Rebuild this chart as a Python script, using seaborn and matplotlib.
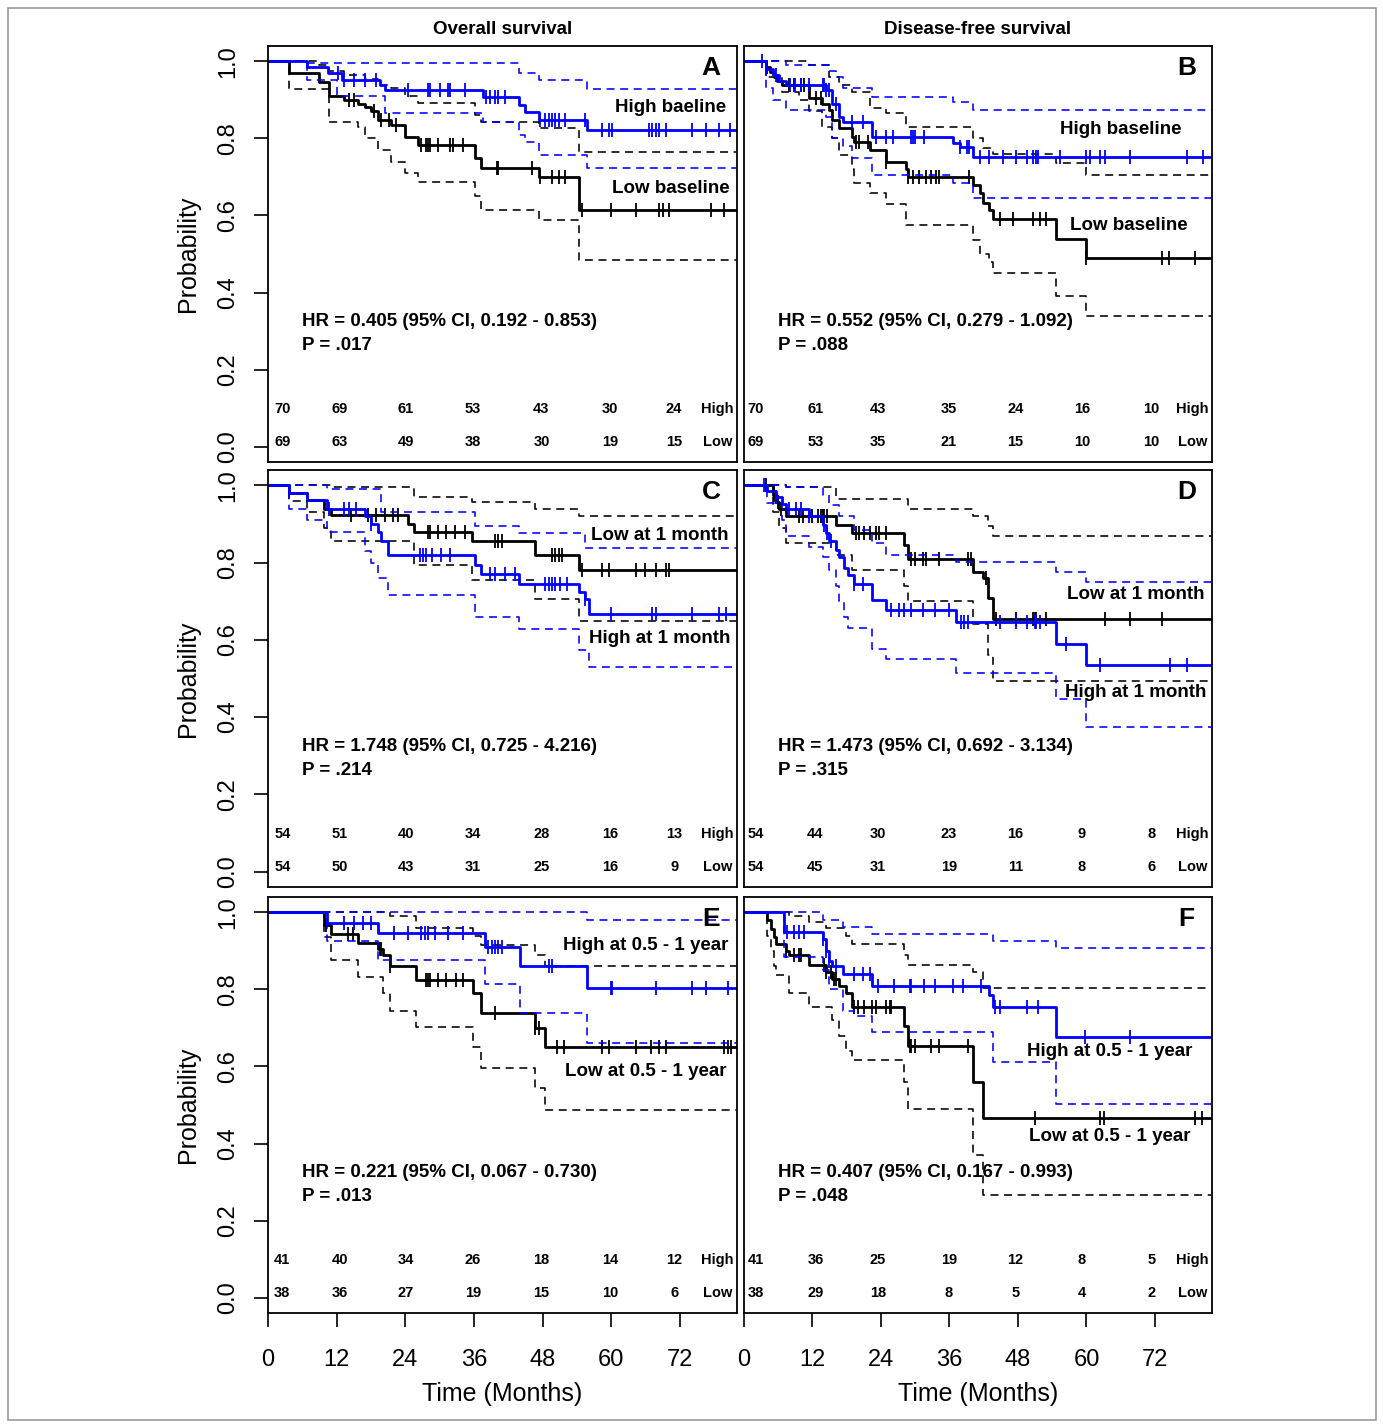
import numpy as np
import pandas as pd
import seaborn as sns
import matplotlib.pyplot as plt
from matplotlib.patches import Rectangle

# ---- A: overall survival, baseline ----
A_high_est = [(6.9, .985), (10.5, .97), (13.0, .953), (19.5, .94), (20.4, .926), (37.6, .908), (43.8, .888), (45.0, .869), (47.3, .848), (55.8, .822)]
A_high_up = [(6.9, .995), (43.8, .97), (47.3, .953), (55.8, .928)]
A_high_lo = [(6.9, .953), (12.0, .91), (20.4, .865), (37.6, .843), (43.8, .81), (45.0, .79), (47.3, .757), (55.8, .722)]
A_high_cens = [12.2, 13.3, 15.1, 16.9, 18.9, 24.5, 28.0, 28.3, 30.0, 31.5, 31.8, 34.4, 38.2, 38.8, 39.7, 40.3, 41.4,
               47.6, 48.5, 49.1, 49.6, 50.2, 50.8, 52.0, 55.5, 58.4, 59.6, 60.2, 66.6, 67.2, 67.8, 68.4, 69.5, 74.2, 76.6, 78.9, 80.7]
A_low_est = [(3.7, .969), (9.0, .947), (10.7, .91), (13.3, .90), (15.7, .89), (16.9, .882), (18.0, .87), (19.2, .848), (21.5, .835),
             (23.9, .805), (26.2, .783), (36.2, .748), (37.3, .722), (47.3, .701), (54.3, .614)]
A_low_up = [(9.0, .99), (10.7, .975), (13.3, .965), (16.9, .955), (19.2, .94), (21.5, .93), (23.9, .91), (26.2, .891), (36.2, .86),
            (37.3, .843), (47.3, .826), (54.3, .766)]
A_low_lo = [(3.7, .928), (10.7, .843), (15.7, .83), (16.9, .80), (19.2, .77), (21.5, .74), (23.9, .71), (26.2, .686), (36.2, .65),
            (37.3, .614), (47.3, .589), (54.3, .485)]
A_low_cens = [14.2, 15.1, 18.6, 19.8, 21.2, 22.4, 26.8, 27.7, 28.0, 28.3, 29.7, 31.8, 32.4, 34.1, 40.0, 40.3, 46.1, 47.6, 49.6, 50.8,
              52.0, 54.9, 59.9, 64.3, 68.4, 69.0, 70.1, 77.4, 79.8]
A_risk_high = [70, 69, 61, 53, 43, 30, 24]
A_risk_low = [69, 63, 49, 38, 30, 19, 15]

# ---- B: disease-free survival, baseline ----
B_high_est = [(3.8, .98), (5.0, .965), (6.1, .95), (7.3, .939), (14.3, .926), (15.5, .89), (16.7, .856), (17.3, .843), (22.5, .804),
              (36.6, .787), (37.8, .779), (40.1, .753)]
B_high_up = [(7.3, .99), (14.9, .975), (16.1, .96), (17.3, .93), (22.5, .908), (36.6, .895), (40.1, .874)]
B_high_lo = [(3.8, .93), (5.0, .90), (7.3, .875), (14.3, .855), (15.5, .80), (17.3, .78), (19.0, .75), (22.5, .705), (36.6, .685), (40.1, .645)]
B_high_cens = [3.2, 3.8, 5.6, 8.0, 8.9, 10.0, 11.4, 13.8, 14.0, 14.3, 14.9, 16.1, 19.0, 20.8, 23.1, 24.9, 26.1, 29.3, 29.6, 29.9, 31.6,
               37.8, 39.0, 39.5, 41.3, 43.0, 45.4, 47.7, 49.5, 50.6, 51.2, 51.5, 55.3, 60.0, 60.6, 62.4, 63.2, 67.6, 77.6, 80.5]
B_low_est = [(3.8, .985), (4.6, .972), (5.2, .96), (5.7, .95), (6.6, .939), (11.4, .904), (13.7, .89), (14.9, .874), (15.5, .848),
             (16.7, .826), (19.0, .805), (19.3, .79), (22.0, .77), (24.9, .74), (28.4, .72), (28.7, .70), (40.1, .68), (41.3, .658),
             (41.9, .633), (43.0, .615), (43.6, .592), (54.7, .54), (60.0, .489)]
B_low_up = [(3.8, 1.0), (11.4, .99), (14.9, .96), (16.7, .94), (19.0, .92), (22.0, .88), (24.9, .865), (28.4, .83), (40.1, .80),
            (41.9, .775), (43.6, .76), (54.7, .737), (60.0, .705)]
B_low_lo = [(3.8, .96), (6.6, .92), (9.7, .90), (11.4, .87), (13.7, .83), (15.5, .80), (16.7, .757), (19.0, .72), (19.3, .685),
            (22.0, .658), (24.9, .63), (28.4, .575), (40.1, .536), (41.3, .50), (43.0, .48), (43.6, .45), (54.7, .39), (60.0, .339)]
B_low_cens = [3.8, 4.1, 7.9, 8.8, 10.0, 10.5, 12.6, 13.5, 19.6, 20.2, 21.7, 24.9, 28.7, 29.6, 30.7, 31.9, 32.8, 33.7, 34.2, 39.5,
              44.8, 47.1, 50.6, 51.8, 53.0, 60.0, 73.2, 74.4, 79.0]
B_risk_high = [70, 61, 43, 35, 24, 16, 10]
B_risk_low = [69, 53, 35, 21, 15, 10, 10]

# ---- C: overall survival, 1 month ----
C_high_est = [(3.7, .98), (6.9, .962), (10.4, .94), (16.9, .92), (18.0, .90), (19.2, .88), (19.8, .855), (21.0, .82), (36.2, .795),
              (37.3, .77), (43.8, .745), (54.3, .725), (55.5, .705), (56.1, .667)]
C_high_up = [(10.4, .99), (19.8, .93), (36.2, .895), (43.8, .876), (55.5, .837)]
C_high_lo = [(3.7, .94), (6.9, .91), (10.4, .88), (16.9, .83), (18.0, .80), (19.2, .76), (21.0, .717), (36.2, .66), (43.8, .627),
             (54.3, .575), (56.1, .53)]
C_high_cens = [10.7, 13.3, 14.2, 15.4, 18.0, 26.5, 27.1, 27.7, 28.6, 30.3, 31.8, 38.8, 39.7, 41.4, 43.2, 48.5, 49.1, 49.6, 50.2,
               51.1, 52.3, 55.5, 59.9, 67.2, 67.8, 74.2, 78.9, 80.1]
C_low_est = [(3.7, .98), (6.9, .962), (9.8, .94), (11.0, .923), (24.5, .90), (25.6, .88), (35.6, .855), (46.7, .82), (54.3, .78)]
C_low_up = [(11.0, .995), (25.6, .97), (35.6, .956), (46.7, .94), (54.3, .921)]
C_low_lo = [(3.7, .96), (6.9, .93), (9.8, .89), (11.0, .855), (25.6, .793), (35.6, .754), (46.7, .707), (54.3, .65)]
C_low_cens = [14.5, 17.4, 18.9, 20.4, 21.8, 22.7, 28.0, 28.3, 29.7, 31.2, 32.7, 34.4, 39.7, 40.3, 40.9, 49.6, 50.2, 50.8, 51.4,
              54.9, 58.4, 59.6, 64.3, 66.0, 67.8, 69.5, 70.1]
C_risk_high = [54, 51, 40, 34, 28, 16, 13]
C_risk_low = [54, 50, 43, 31, 25, 16, 9]

# ---- D: disease-free survival, 1 month ----
D_high_est = [(4.0, .985), (5.6, .97), (6.7, .953), (7.3, .94), (11.4, .92), (13.8, .898), (14.3, .876), (14.9, .855), (16.1, .833),
              (16.7, .815), (17.6, .785), (18.2, .768), (19.3, .746), (22.5, .703), (24.9, .677), (37.2, .647), (54.7, .59), (60.0, .536)]
D_high_up = [(7.3, .995), (13.8, .975), (14.9, .95), (16.7, .92), (19.3, .885), (22.5, .85), (24.9, .82), (37.2, .802), (54.7, .776), (60.0, .75)]
D_high_lo = [(4.0, .955), (6.7, .91), (7.3, .87), (11.4, .84), (13.8, .815), (14.9, .78), (16.1, .74), (16.7, .70), (17.6, .66),
             (18.2, .63), (22.5, .577), (24.9, .55), (37.2, .515), (54.7, .448), (60.0, .374)]
D_high_cens = [3.5, 5.6, 7.9, 9.1, 10.0, 11.4, 14.1, 14.6, 15.2, 19.3, 20.8, 25.8, 27.2, 28.1, 29.3, 31.3, 33.4, 36.0, 38.0, 38.6,
               39.2, 44.8, 47.7, 49.5, 50.9, 51.2, 51.8, 56.5, 62.4, 74.6, 77.6]
D_low_est = [(5.0, .975), (5.6, .957), (6.1, .94), (7.3, .92), (16.1, .898), (19.0, .876), (28.1, .845), (28.7, .81), (40.1, .777),
             (41.9, .76), (42.7, .708), (43.6, .655)]
D_low_up = [(7.3, .995), (16.1, .966), (28.7, .94), (40.1, .92), (42.7, .895), (43.6, .87)]
D_low_lo = [(5.0, .93), (6.1, .89), (7.3, .85), (16.1, .82), (19.0, .78), (28.1, .74), (28.7, .70), (40.1, .64), (42.7, .56), (43.6, .494)]
D_low_cens = [3.8, 5.3, 5.9, 6.4, 9.7, 10.3, 12.0, 12.9, 13.5, 13.8, 14.1, 14.6, 19.6, 20.2, 21.1, 22.0, 23.1, 23.7, 24.9, 29.3,
              29.9, 31.3, 31.9, 34.2, 39.2, 39.8, 42.4, 44.2, 47.7, 50.6, 50.9, 51.2, 53.0, 63.2, 67.6, 73.2]
D_risk_high = [54, 44, 30, 23, 16, 9, 8]
D_risk_low = [54, 45, 31, 19, 11, 8, 6]

# ---- E: overall survival, 0.5 - 1 year ----
E_high_est = [(10.4, .972), (19.2, .946), (37.9, .911), (44.1, .86), (55.8, .803)]
E_high_up = [(55.8, .98)]
E_high_lo = [(10.4, .925), (19.2, .877), (37.9, .815), (44.1, .738), (55.8, .66)]
E_high_cens = [13.3, 15.1, 16.6, 18.0, 22.1, 24.5, 26.8, 27.4, 28.0, 29.2, 31.5, 34.1, 38.5, 39.1, 39.7, 40.3, 40.9, 49.1, 49.6,
               59.9, 60.2, 67.8, 74.2, 76.6, 80.4]
E_low_est = [(9.8, .967), (11.0, .943), (15.7, .92), (19.2, .905), (20.1, .89), (21.3, .86), (25.9, .825), (35.9, .79), (37.3, .74),
             (46.7, .70), (48.5, .651)]
E_low_up = [(21.3, .99), (25.9, .96), (35.9, .94), (37.3, .915), (46.7, .89), (48.5, .86)]
E_low_lo = [(9.8, .937), (11.0, .877), (15.7, .833), (20.1, .79), (21.3, .745), (25.9, .703), (35.9, .65), (37.3, .595), (46.7, .545), (48.5, .487)]
E_low_cens = [10.1, 13.9, 14.8, 19.5, 19.8, 21.3, 27.7, 28.0, 28.3, 29.7, 31.2, 32.9, 34.1, 39.7, 46.7, 47.3, 50.5, 51.7, 58.4,
              59.6, 64.3, 66.9, 68.4, 69.5, 79.8, 80.4, 81.0]
E_risk_high = [41, 40, 34, 26, 18, 14, 12]
E_risk_low = [38, 36, 27, 19, 15, 10, 6]

# ---- F: disease-free survival, 0.5 - 1 year ----
F_high_est = [(7.0, .95), (13.8, .93), (14.3, .90), (14.9, .875), (15.5, .86), (17.3, .84), (22.5, .81), (43.0, .785), (43.6, .755), (54.7, .677)]
F_high_up = [(13.8, .98), (17.3, .961), (22.5, .943), (43.6, .926), (54.7, .907)]
F_high_lo = [(7.0, .885), (13.8, .85), (14.9, .80), (17.3, .745), (19.3, .73), (22.5, .689), (43.6, .612), (54.7, .502)]
F_high_cens = [7.6, 8.8, 9.7, 10.5, 13.8, 14.3, 14.9, 16.1, 19.3, 20.8, 22.0, 23.4, 26.3, 29.0, 29.3, 31.6, 33.4, 36.6, 38.4,
               41.6, 43.9, 44.8, 49.5, 51.5, 59.7, 67.6]
F_low_est = [(4.1, .98), (4.7, .957), (5.3, .935), (5.6, .917), (7.3, .90), (7.9, .889), (11.4, .863), (14.3, .845), (15.5, .828),
             (16.7, .81), (17.9, .79), (19.0, .755), (28.1, .705), (28.7, .653), (40.1, .561), (41.9, .466)]
F_low_up = [(7.9, .99), (11.4, .975), (14.3, .96), (17.9, .94), (19.0, .917), (28.1, .89), (28.7, .863), (40.1, .845), (41.9, .805)]
F_low_lo = [(4.1, .94), (4.7, .90), (5.3, .86), (5.6, .837), (7.9, .79), (11.4, .755), (15.5, .72), (16.7, .68), (17.9, .64),
            (19.0, .616), (28.1, .56), (28.7, .49), (40.1, .371), (41.9, .267)]
F_low_cens = [7.3, 8.8, 9.7, 10.0, 14.0, 14.3, 15.2, 15.8, 16.1, 19.3, 19.9, 21.1, 22.5, 23.1, 24.9, 25.5, 25.8, 29.0, 29.3, 29.9,
              32.8, 34.2, 39.2, 50.9, 62.4, 63.0, 79.0, 80.2]
F_risk_high = [41, 36, 25, 19, 12, 8, 5]
F_risk_low = [38, 29, 18, 8, 5, 4, 2]

hr_texts = ["HR = 0.405 (95% CI, 0.192 - 0.853)", "HR = 0.552 (95% CI, 0.279 - 1.092)",
            "HR = 1.748 (95% CI, 0.725 - 4.216)", "HR = 1.473 (95% CI, 0.692 - 3.134)",
            "HR = 0.221 (95% CI, 0.067 - 0.730)", "HR = 0.407 (95% CI, 0.167 - 0.993)"]
p_texts = ["P = .017", "P = .088", "P = .214", "P = .315", "P = .013", "P = .048"]
letters = ["A", "B", "C", "D", "E", "F"]
x_ticks = [0, 12, 24, 36, 48, 60, 72]
y_ticks = [0.0, 0.2, 0.4, 0.6, 0.8, 1.0]

BLUE = "#0000ff"
END = 81.8

panels = [
    dict(high=(A_high_est, A_high_up, A_high_lo, A_high_cens), low=(A_low_est, A_low_up, A_low_lo, A_low_cens),
         risk=(A_risk_high, A_risk_low), labels=[("High baeline", 70.3, .881), ("Low baseline", 70.4, .669)]),
    dict(high=(B_high_est, B_high_up, B_high_lo, B_high_cens), low=(B_low_est, B_low_up, B_low_lo, B_low_cens),
         risk=(B_risk_high, B_risk_low), labels=[("High baseline", 66.0, .822), ("Low baseline", 67.4, .575)]),
    dict(high=(C_high_est, C_high_up, C_high_lo, C_high_cens), low=(C_low_est, C_low_up, C_low_lo, C_low_cens),
         risk=(C_risk_high, C_risk_low), labels=[("Low at 1 month", 68.5, .871), ("High at 1 month", 68.5, .604)]),
    dict(high=(D_high_est, D_high_up, D_high_lo, D_high_cens), low=(D_low_est, D_low_up, D_low_lo, D_low_cens),
         risk=(D_risk_high, D_risk_low), labels=[("Low at 1 month", 68.7, .718), ("High at 1 month", 68.6, .464)]),
    dict(high=(E_high_est, E_high_up, E_high_lo, E_high_cens), low=(E_low_est, E_low_up, E_low_lo, E_low_cens),
         risk=(E_risk_high, E_risk_low), labels=[("High at 0.5 - 1 year", 66.1, .913), ("Low at 0.5 - 1 year", 66.1, .588)]),
    dict(high=(F_high_est, F_high_up, F_high_lo, F_high_cens), low=(F_low_est, F_low_up, F_low_lo, F_low_cens),
         risk=(F_risk_high, F_risk_low), labels=[("High at 0.5 - 1 year", 64.0, .638), ("Low at 0.5 - 1 year", 64.1, .417)]),
]

sns.set_style("white")
plt.rcParams['font.family'] = ['Liberation Sans', 'DejaVu Sans']
plt.rcParams['text.color'] = 'black'
plt.rcParams['axes.labelcolor'] = 'black'
plt.rcParams['xtick.color'] = 'black'
plt.rcParams['ytick.color'] = 'black'


def step_frame(pts, end=END):
    t = [0.0] + [p[0] for p in pts] + [end]
    s = [1.0] + [p[1] for p in pts] + [pts[-1][1] if pts else 1.0]
    return pd.DataFrame({'time': t, 'surv': s})


def surv_at(pts, times):
    tt = np.array([0.0] + [p[0] for p in pts])
    ss = np.array([1.0] + [p[1] for p in pts])
    idx = np.searchsorted(tt, np.asarray(times), side='right') - 1
    return ss[idx]


def draw_group(ax, group, color):
    est, up, lo, cens = group
    for pts, ls, lw in [(up, (0, (5, 3.5)), 1.15), (lo, (0, (5, 3.5)), 1.15), (est, '-', 2.0)]:
        sns.lineplot(data=step_frame(pts), x='time', y='surv', ax=ax, color=color, lw=lw, linestyle=ls,
                     drawstyle='steps-post', estimator=None, sort=False)
    ax.plot(cens, surv_at(est, cens), ls='', marker='|', ms=9.5, mew=1.3, color=color)


fig = plt.figure(figsize=(13.83, 14.24), dpi=100)
W, H = 1383, 1424
cols = [(268, 737), (744, 1212)]
rows = [(46, 462), (470, 887), (897, 1313)]
risk_x = [[2.5, 12.6, 24.1, 35.8, 47.8, 59.8, 71.0], [2.0, 12.5, 23.5, 35.9, 47.6, 59.2, 71.4]]
big = 13.5
small = 10.5

for i, pan in enumerate(panels):
    r, c = divmod(i, 2)
    x0, x1 = cols[c]
    y0, y1 = rows[r]
    ax = fig.add_axes([x0 / W, 1 - y1 / H, (x1 - x0) / W, (y1 - y0) / H])

    draw_group(ax, pan['low'], 'black')
    draw_group(ax, pan['high'], BLUE)

    ax.set_xlim(0, 82)
    ax.set_ylim(-0.04, 1.04)
    for sp in ax.spines.values():
        sp.set_visible(True)
        sp.set_color('black')
        sp.set_linewidth(1.3)

    # texts
    ax.text(77.5, 0.982, letters[i], fontsize=19, fontweight='bold', ha='center', va='center')
    for txt, tx, ty in pan['labels']:
        ax.text(tx, ty, txt, fontsize=big, fontweight='bold', ha='center', va='center')
    ax.text(6.0, 0.325, hr_texts[i], fontsize=big, fontweight='bold', ha='left', va='center')
    ax.text(6.0, 0.263, p_texts[i], fontsize=big, fontweight='bold', ha='left', va='center')
    rh, rl = pan['risk']
    for xx, a, b in zip(risk_x[c], rh, rl):
        ax.text(xx, 0.097, str(a), fontsize=small, fontweight='bold', ha='center', va='center')
        ax.text(xx, 0.012, str(b), fontsize=small, fontweight='bold', ha='center', va='center')
    ax.text(78.6, 0.097, "High", fontsize=small, fontweight='bold', ha='center', va='center')
    ax.text(78.6, 0.012, "Low", fontsize=small, fontweight='bold', ha='center', va='center')

    # axes
    ax.set_xlabel('')
    ax.set_ylabel('')
    if c == 0:
        ax.set_yticks(y_ticks)
        ax.set_yticklabels([f"{v:.1f}" for v in y_ticks], rotation=90, va='center')
        ax.tick_params(axis='y', direction='out', length=10, width=1.2, pad=11, labelsize=17, left=True)
        ax.set_ylabel('Probability', fontsize=18, labelpad=12)
    else:
        ax.set_yticks([])
    if r == 2:
        ax.set_xticks(x_ticks)
        ax.set_xticklabels([str(v) for v in x_ticks])
        ax.tick_params(axis='x', direction='out', length=10, width=1.2, pad=16, labelsize=17, bottom=True)
        ax.set_xlabel('Time (Months)', fontsize=18, labelpad=8)
    else:
        ax.set_xticks([])

fig.text(cols[0][0] / W / 2 + cols[0][1] / W / 2, 1 - 30 / H, "Overall survival", fontsize=13.5, fontweight='bold', ha='center', va='center')
fig.text(cols[1][0] / W / 2 + cols[1][1] / W / 2, 1 - 30 / H, "Disease-free survival", fontsize=13.5, fontweight='bold', ha='center', va='center')

fig.patches.append(Rectangle((8 / W, 1 - 1420 / H), 1368 / W, 1412 / H, transform=fig.transFigure,
                             fill=False, edgecolor='#9a9a9a', lw=1.2))

plt.savefig("out.png", dpi=100)
